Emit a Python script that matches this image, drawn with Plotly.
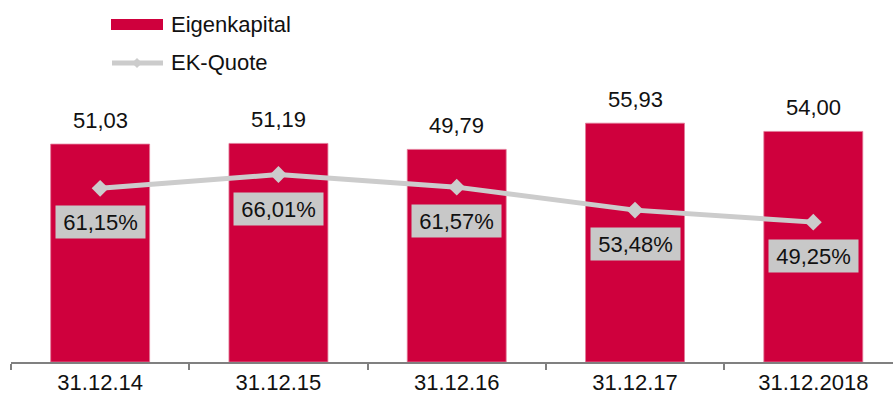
import plotly.graph_objects as go

categories = ["31.12.14", "31.12.15", "31.12.16", "31.12.17", "31.12.2018"]
eigenkapital = [51.03, 51.19, 49.79, 55.93, 54.00]
ek_quote = [61.15, 66.01, 61.57, 53.48, 49.25]

def de(v, d=2):
    return f"{v:.{d}f}".replace(".", ",")

FONT = "Liberation Sans, Arial, Helvetica, sans-serif"
FS = 22
RED = "#CF003D"
GREY = "#CCCCCC"
W, H = 893, 397
PLOT_H = 362

fig = go.Figure()
fig.add_trace(go.Bar(
    x=categories, y=eigenkapital, name="Eigenkapital",
    marker=dict(color=RED, line=dict(color="#E27A98", width=0.8)),
    width=0.555, yaxis="y",
))
fig.add_trace(go.Scatter(
    x=categories, y=ek_quote, name="EK-Quote", mode="lines+markers",
    line=dict(color=GREY, width=5),
    marker=dict(symbol="diamond", size=13, color=GREY),
    yaxis="y2",
))

annotations = []
for c, v in zip(categories, eigenkapital):
    annotations.append(dict(
        x=c, y=v, xref="x", yref="y", text=de(v), showarrow=False,
        yanchor="middle", yshift=24, font=dict(family=FONT, size=FS, color="#111111"),
    ))
for c, v in zip(categories, ek_quote):
    annotations.append(dict(
        x=c, y=v, xref="x", yref="y2", text=de(v) + "%", showarrow=False,
        yanchor="middle", yshift=-34, bgcolor="#C8C8C8", borderpad=3,
        width=83, height=26,
        font=dict(family=FONT, size=FS, color="#111111"),
    ))

# manual legend
def px_x(p):
    return p / W

def px_y(p):
    return 1 - p / PLOT_H

annotations.append(dict(
    x=px_x(169), y=px_y(24), xref="paper", yref="paper", text="Eigenkapital",
    showarrow=False, xanchor="left", yanchor="middle",
    font=dict(family=FONT, size=FS, color="#111111"),
))
annotations.append(dict(
    x=px_x(169), y=px_y(62), xref="paper", yref="paper", text="EK-Quote",
    showarrow=False, xanchor="left", yanchor="middle",
    font=dict(family=FONT, size=FS, color="#111111"),
))

shapes = [
    dict(type="rect", xref="paper", yref="paper",
         x0=px_x(111), x1=px_x(163), y0=px_y(30), y1=px_y(19),
         fillcolor=RED, line=dict(width=0)),
    dict(type="line", xref="paper", yref="paper",
         x0=px_x(112), x1=px_x(163), y0=px_y(63), y1=px_y(63),
         line=dict(color=GREY, width=5)),
    dict(type="path", xref="paper", yref="paper",
         path=f"M {px_x(137)} {px_y(58)} L {px_x(142)} {px_y(63)} L {px_x(137)} {px_y(68)} L {px_x(132)} {px_y(63)} Z",
         fillcolor=GREY, line=dict(width=0)),
]

fig.update_layout(
    width=W, height=H,
    margin=dict(l=0, r=0, t=0, b=H - PLOT_H),
    paper_bgcolor="white", plot_bgcolor="white",
    showlegend=False,
    font=dict(family=FONT, size=FS, color="#111111"),
    xaxis=dict(
        domain=[11 / W, 1], type="category", range=[-0.5, 4.447],
        showline=True, linecolor="#808080", linewidth=1.5,
        ticks="outside", tickson="boundaries", ticklen=6, tickcolor="#808080", tickwidth=1.5,
        tickfont=dict(family=FONT, size=FS, color="#111111"),
        showgrid=False, zeroline=False, fixedrange=True,
    ),
    yaxis=dict(range=[0, PLOT_H / 4.27], visible=False, showgrid=False, zeroline=False),
    yaxis2=dict(range=[0, PLOT_H / 2.84], overlaying="y", visible=False,
                showgrid=False, zeroline=False),
    annotations=annotations,
    shapes=shapes,
)

fig.write_html("out.html")
